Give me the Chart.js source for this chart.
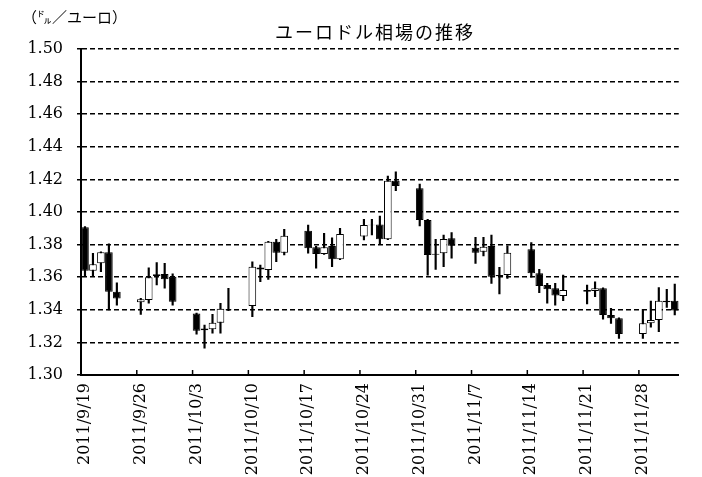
<!DOCTYPE html>
<html>
<head>
<meta charset="utf-8">
<script src="https://cdn.jsdelivr.net/npm/chart.js@4"></script>
<style>
  body { margin: 0; background: #fff; }
  #wrap { width: 702px; height: 477px; position: relative; }
</style>
</head>
<body>
<div id="wrap"><canvas id="chart"></canvas></div>
<script>
const chartTitle = "ユーロドル相場の推移";
const unitLabel = "（㌦／ユーロ）";

// trading days (days since 2011/9/19) and OHLC
const dayOffsets = [0, 1, 2, 3, 4, 7, 8, 9, 10, 11, 14, 15, 16, 17, 18, 21, 22, 23, 24, 25,
  28, 29, 30, 31, 32, 35, 36, 37, 38, 39, 42, 43, 44, 45, 46, 49, 50, 51, 52, 53,
  56, 57, 58, 59, 60, 63, 64, 65, 66, 67, 70, 71, 72, 73, 74];
const openValues = [1.3906, 1.3640, 1.3685, 1.3753, 1.3511, 1.3446, 1.3460, 1.3608, 1.3620, 1.3603,
  1.3378, 1.3285, 1.3280, 1.3321, 1.3402, 1.3423, 1.3660, 1.3644, 1.3818, 1.3750,
  1.3885, 1.3783, 1.3742, 1.3791, 1.3710, 1.3849, 1.3918, 1.3924, 1.3833, 1.4192,
  1.4145, 1.3951, 1.3738, 1.3747, 1.3839, 1.3781, 1.3756, 1.3791, 1.3606, 1.3613,
  1.3771, 1.3624, 1.3552, 1.3532, 1.3485, 1.3522, 1.3515, 1.3532, 1.3368, 1.3348,
  1.3252, 1.3317, 1.3337, 1.3456, 1.3456];
const highValues = [1.3910, 1.3747, 1.3755, 1.3804, 1.3566, 1.3470, 1.3658, 1.3689, 1.3685, 1.3620,
  1.3380, 1.3307, 1.3372, 1.3440, 1.3532, 1.3695, 1.3675, 1.3820, 1.3832, 1.3894,
  1.3920, 1.3790, 1.3869, 1.3842, 1.3900, 1.3955, 1.3955, 1.3975, 1.4221, 1.4247,
  1.4172, 1.3955, 1.3833, 1.3859, 1.3873, 1.3845, 1.3845, 1.3859, 1.3660, 1.3793,
  1.3812, 1.3648, 1.3563, 1.3563, 1.3613, 1.3552, 1.3572, 1.3535, 1.3409, 1.3350,
  1.3403, 1.3454, 1.3536, 1.3526, 1.3558];
const lowValues = [1.3603, 1.3603, 1.3634, 1.3399, 1.3429, 1.3372, 1.3440, 1.3552, 1.3532, 1.3429,
  1.3250, 1.3164, 1.3256, 1.3256, 1.3395, 1.3358, 1.3572, 1.3587, 1.3695, 1.3736,
  1.3747, 1.3655, 1.3740, 1.3664, 1.3708, 1.3828, 1.3860, 1.3802, 1.3830, 1.4131,
  1.3914, 1.3613, 1.3648, 1.3664, 1.3716, 1.3685, 1.3730, 1.3562, 1.3497, 1.3593,
  1.3600, 1.3505, 1.3440, 1.3429, 1.3456, 1.3436, 1.3480, 1.3342, 1.3317, 1.3225,
  1.3225, 1.3293, 1.3266, 1.3415, 1.3368];
const closeValues = [1.3640, 1.3679, 1.3753, 1.3511, 1.3470, 1.3464, 1.3600, 1.3618, 1.3587, 1.3450,
  1.3272, 1.3275, 1.3321, 1.3407, 1.3398, 1.3664, 1.3648, 1.3818, 1.3750, 1.3855,
  1.3777, 1.3742, 1.3783, 1.3710, 1.3865, 1.3920, 1.3922, 1.3833, 1.4192, 1.4160,
  1.3951, 1.3736, 1.3744, 1.3834, 1.3793, 1.3750, 1.3787, 1.3603, 1.3614, 1.3750,
  1.3624, 1.3546, 1.3526, 1.3487, 1.3522, 1.3510, 1.3532, 1.3368, 1.3348, 1.3252,
  1.3317, 1.3337, 1.3456, 1.3446, 1.3395];

const totalDays = 75; // 2011/9/19 .. 2011/12/2
const yTicks = { min: 1.30, max: 1.50, step: 0.02 };

// one category per calendar day, weekends stay empty
const dayLabels = [];
for (let i = 0; i < totalDays; i++) {
  const d = new Date(2011, 8, 19 + i);
  dayLabels.push(`${d.getFullYear()}/${d.getMonth() + 1}/${d.getDate()}`);
}

const bodies = new Array(totalDays).fill(null);
const wicks = new Array(totalDays).fill(null);
const bodyColors = new Array(totalDays).fill("#fff");
dayOffsets.forEach((day, i) => {
  bodies[day] = [openValues[i], closeValues[i]];
  wicks[day] = [lowValues[i], highValues[i]];
  bodyColors[day] = closeValues[i] >= openValues[i] ? "#fff" : "#000";
});

const decorPlugin = {
  id: "decor",
  afterDraw(chart) {
    const { ctx, chartArea } = chart;
    const x = chart.scales.x;
    ctx.save();
    ctx.fillStyle = "#000";
    ctx.textBaseline = "middle";
    ctx.textAlign = "center";
    ctx.font = '18px "Noto Sans CJK JP"';
    ctx.letterSpacing = "2px";
    ctx.fillText(chartTitle, 375, 32);
    ctx.textAlign = "left";
    ctx.font = '15px "Noto Sans CJK JP"';
    ctx.letterSpacing = "0px";
    ctx.fillText(unitLabel, 22, 17);

    // small inward tick marks on the week boundaries
    ctx.strokeStyle = "#000";
    ctx.lineWidth = 1.5;
    for (let i = 7; i < totalDays; i += 7) {
      const px = (x.getPixelForValue(i) + x.getPixelForValue(i - 1)) / 2;
      ctx.beginPath();
      ctx.moveTo(px, chartArea.bottom);
      ctx.lineTo(px, chartArea.bottom - 5);
      ctx.stroke();
    }
    ctx.restore();
  },
};

new Chart(document.getElementById("chart"), {
  type: "bar",
  data: {
    labels: dayLabels,
    datasets: [
      {
        label: "body",
        data: bodies,
        backgroundColor: bodyColors,
        borderColor: "#000",
        borderWidth: 1,
        borderSkipped: false,
        barPercentage: 0.96,
        categoryPercentage: 1,
        grouped: false,
        order: 1,
      },
      {
        label: "wick",
        data: wicks,
        backgroundColor: "#000",
        borderWidth: 0,
        barThickness: 1.5,
        grouped: false,
        order: 2,
      },
    ],
  },
  options: {
    responsive: true,
    maintainAspectRatio: false,
    animation: false,
    layout: { padding: { top: 49, right: 7, left: 0, bottom: 0 } },
    plugins: {
      legend: { display: false },
      tooltip: { enabled: false },
    },
    scales: {
      x: {
        offset: true,
        grid: { display: false, drawTicks: false },
        border: { color: "#000", width: 2 },
        ticks: {
          autoSkip: false,
          maxRotation: 90,
          minRotation: 90,
          padding: 8,
          color: "#000",
          font: { family: "DejaVu Serif", size: 16 },
          callback: (value, index) => (index % 7 === 0 ? dayLabels[index] : ""),
        },
        afterFit: (scale) => {
          scale.height = 102;
        },
      },
      y: {
        min: yTicks.min,
        max: yTicks.max,
        grid: { color: "#000", lineWidth: 1.5, tickLength: 4 },
        border: { color: "#000", width: 2, dash: [5, 3] },
        ticks: {
          stepSize: yTicks.step,
          padding: 14,
          color: "#000",
          font: { family: "DejaVu Serif", size: 16 },
          callback: (value) => value.toFixed(2),
        },
        afterFit: (scale) => {
          scale.width = 81;
        },
      },
    },
  },
  plugins: [decorPlugin],
});
</script>
</body>
</html>
